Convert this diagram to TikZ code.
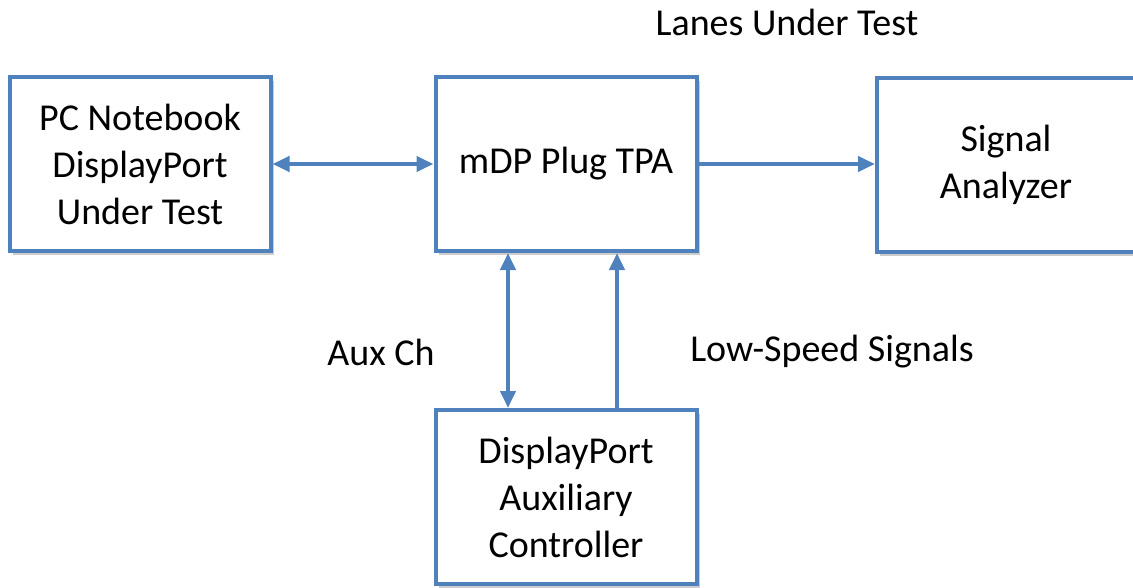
\documentclass[tikz,border=0pt]{standalone}
\usepackage{fontspec}
\setmainfont{Carlito}
\usetikzlibrary{arrows.meta,positioning,shadows}
\definecolor{boxblue}{RGB}{79,129,189}
\tikzset{
  blk/.style={draw=boxblue,line width=4pt,fill=white,minimum width=261pt,minimum height=174pt,
    align=center,font=\fontsize{38}{47}\selectfont,
    drop shadow={shadow xshift=3pt,shadow yshift=-4pt,fill=black!40,opacity=0.5}},
  lbl/.style={font=\fontsize{38}{44}\selectfont},
  link/.style={boxblue,line width=4pt,-{Triangle[length=17pt,width=15pt]}},
}
\begin{document}
\begin{tikzpicture}[x=1pt,y=-1pt]
  \useasboundingbox (0,0) rectangle (1133,587);
  \node[blk] (pc) at (140,164) {PC Notebook\\DisplayPort\\Under Test};
  \node[blk] (tpa) at (566,164) {mDP Plug TPA};
  \node[blk,minimum width=258pt] (sa) at (1006,165) {Signal\\Analyzer};
  \node[blk] (ctrl) at (566,497) {DisplayPort\\Auxiliary\\Controller};

  \node[lbl] (lanes) at (787,22) {Lanes Under Test};
  \node[lbl] (aux) at (381,352) {Aux Ch};
  \node[lbl] (lowspeed) at (832,352) {Low-Speed Signals};

  % connections
  \draw[link,{Triangle[length=17pt,width=15pt]}-{Triangle[length=17pt,width=15pt]}] (pc) -- (tpa);
  \draw[link] (tpa) -- (tpa -| sa.west);
  \draw[link,{Triangle[length=17pt,width=15pt]}-{Triangle[length=17pt,width=15pt]}]
    ([xshift=-58pt]tpa.south) -- ([xshift=-58pt]ctrl.north);
  \draw[link] ([xshift=51pt]ctrl.north) -- ([xshift=51pt]tpa.south);
\end{tikzpicture}
\end{document}
